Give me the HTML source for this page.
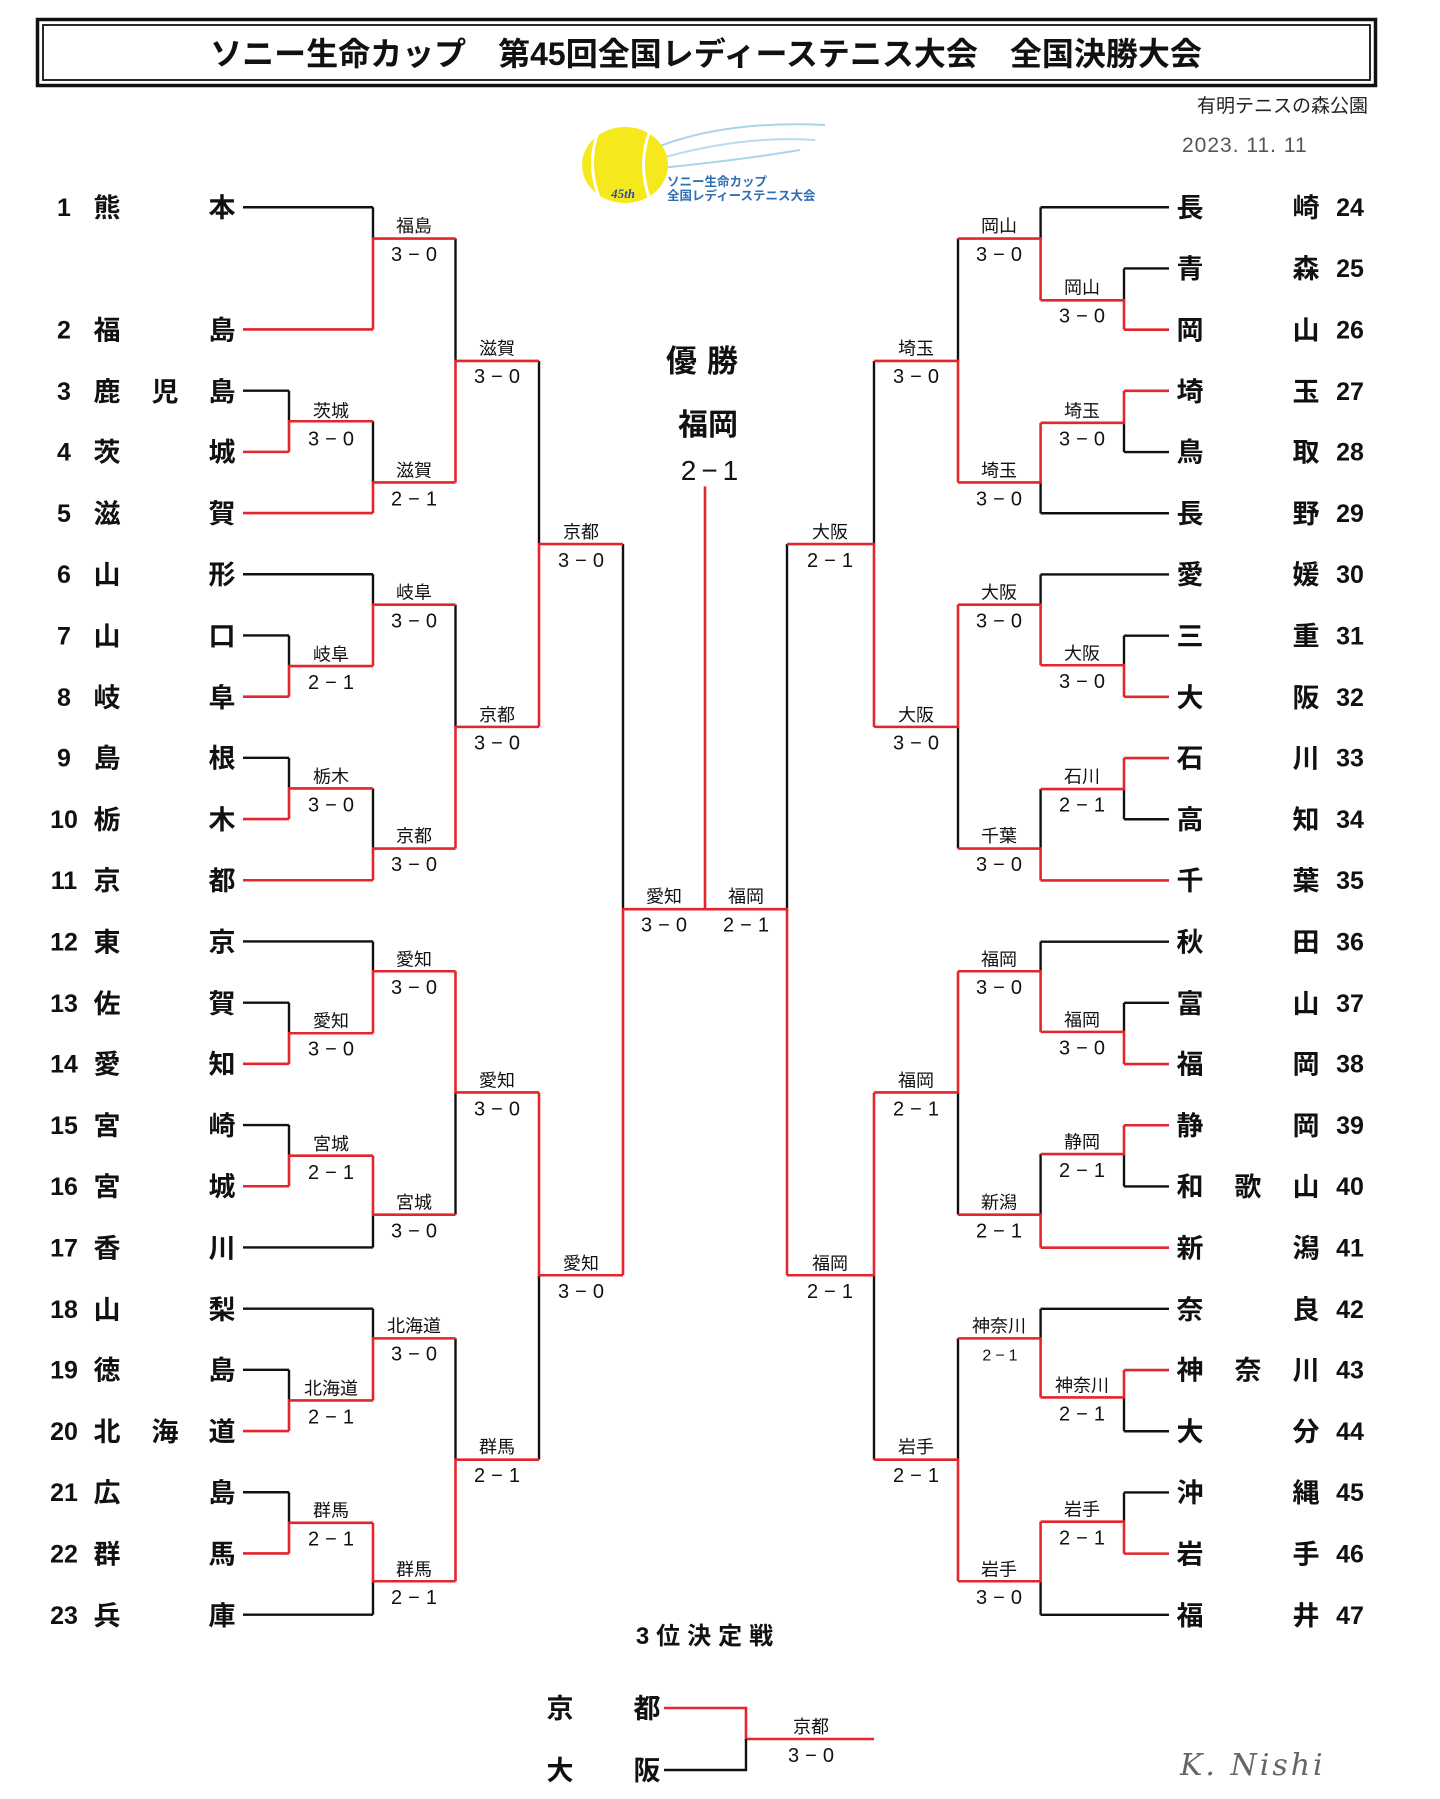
<!DOCTYPE html>
<html><head><meta charset="utf-8"><style>
html,body{margin:0;padding:0;background:#fff}
svg{display:block}
.t{font-family:"Liberation Sans","Noto Sans CJK JP",sans-serif;font-weight:bold;font-size:27px;fill:#111;text-anchor:middle}
.n{font-family:"Liberation Sans",sans-serif;font-weight:bold;font-size:25px;fill:#111;text-anchor:middle}
.l{font-family:"Liberation Sans","Noto Sans CJK JP",sans-serif;font-size:18px;fill:#111;text-anchor:middle}
.s{font-family:"Liberation Sans",sans-serif;font-size:20px;fill:#111;text-anchor:middle;letter-spacing:6px}
.r{fill:none;stroke:#e3262d;stroke-width:2.6}
.k{fill:none;stroke:#111;stroke-width:2.4}
</style></head><body>
<svg width="1440" height="1799" viewBox="0 0 1440 1799" xmlns="http://www.w3.org/2000/svg">
<rect x="37.5" y="19.5" width="1338" height="66" fill="none" stroke="#111" stroke-width="3.5"/>
<rect x="43" y="25" width="1327" height="55" fill="none" stroke="#111" stroke-width="1.8"/>
<text x="706" y="65" font-family="'Liberation Sans','Noto Sans CJK JP',sans-serif" font-weight="bold" font-size="32" text-anchor="middle" fill="#111">ソニー生命カップ　第45回全国レディーステニス大会　全国決勝大会</text>
<text x="1368" y="112" font-family="'Liberation Sans','Noto Sans CJK JP',sans-serif" font-size="19" text-anchor="end" fill="#222">有明テニスの森公園</text>
<text x="1182" y="152" font-family="'Liberation Sans',sans-serif" font-size="21" fill="#555" letter-spacing="1">2023. 11. 11</text>
<g>
<path d="M650 150 Q720 120 825 125" stroke="#a8d4ec" stroke-width="2" fill="none"/>
<path d="M655 160 Q740 135 815 140" stroke="#b8dcef" stroke-width="2" fill="none"/>
<path d="M660 168 Q740 160 800 150" stroke="#a8d4ec" stroke-width="2" fill="none"/>
<ellipse cx="625" cy="165" rx="43" ry="38" fill="#f5e91e"/>
<path d="M598 132 Q586 165 600 200" stroke="#fff" stroke-width="3" fill="none"/>
<path d="M650 130 Q637 165 650 200" stroke="#fff" stroke-width="3" fill="none"/>
<text x="623" y="198" font-family="'Liberation Serif',serif" font-style="italic" font-weight="bold" font-size="13" fill="#2b4fa0" text-anchor="middle">45th</text>
<text x="667" y="186" font-family="'Liberation Sans','Noto Sans CJK JP',sans-serif" font-weight="bold" font-size="12.5" fill="#2e6fb8">ソニー生命カップ</text>
<text x="667" y="200" font-family="'Liberation Sans','Noto Sans CJK JP',sans-serif" font-weight="bold" font-size="12.5" fill="#2e6fb8">全国レディーステニス大会</text>
</g>
<text x="707" y="372" font-family="'Liberation Sans','Noto Sans CJK JP',sans-serif" font-weight="bold" font-size="31" text-anchor="middle" fill="#111" letter-spacing="10">優勝</text>
<text x="708" y="435" font-family="'Liberation Sans','Noto Sans CJK JP',sans-serif" font-weight="bold" font-size="30" text-anchor="middle" fill="#111">福岡</text>
<text x="712" y="480" font-family="'Liberation Sans',sans-serif" font-size="28" text-anchor="middle" fill="#111" letter-spacing="5">2−1</text>

<g transform="translate(0,1.6) scale(1,0.9935)">
<path class="k" d="M243 207H373 M243 391.6H289 M243 576.4H373 M243 638H289 M243 761.2H289 M243 946H373 M243 1007.6H289 M243 1130.8H289 M243 1254H373 M243 1315.6H373 M243 1377.2H289 M243 1500.4H289 M243 1623.6H373
M289 391.6V422.4 M289 638V668.8 M289 761.2V792 M289 1007.6V1038.4 M289 1130.8V1161.6 M289 1377.2V1408 M289 1500.4V1531.2
M373 207V238.5 M373 422.4V484 M373 576.4V607 M373 792V852.5 M373 946V976 M373 1254V1221 M373 1315.6V1345.5 M373 1623.6V1590
M455.5 238.5V361.7 M455.5 607V730 M455.5 1221V1098 M455.5 1345.5V1467.6
M539 361.7V546 M539 1467.6V1282 M623 546V913.5
M1169 207H1040.6 M1169 268.6H1124 M1169 453.4H1124 M1169 515H1040.6 M1169 576.6H1040.6 M1169 638.2H1124 M1169 823H1124 M1169 946.2H1040.6 M1169 1007.8H1124 M1169 1192.6H1124 M1169 1315.8H1040.6 M1169 1439H1124 M1169 1500.6H1124 M1169 1623.8H1040.6
M1124 268.6V300.7 M1124 453.4V424 M1124 638.2V668 M1124 823V792.6 M1124 1007.8V1037 M1124 1192.6V1160 M1124 1439V1405 M1124 1500.6V1530
M1040.6 207V238.5 M1040.6 515V484 M1040.6 576.6V607 M1040.6 792.6V852.5 M1040.6 946.2V976 M1040.6 1160V1221 M1040.6 1315.8V1345.5 M1040.6 1623.8V1590
M958 238.5V361.7 M958 852.5V730 M958 1221V1098 M958 1345.5V1467.6
M874 361.7V546 M874 1467.6V1282 M787 546V913.5"/>
<path class="r" d="M243 330H373 M243 453.2H289 M243 514.8H373 M243 699.6H289 M243 822.8H289 M243 884.4H373 M243 1069.2H289 M243 1192.4H289 M243 1438.8H289 M243 1562H289
M289 453.2V422.4H373 M289 699.6V668.8H373 M289 822.8V792H373 M289 1069.2V1038.4H373 M289 1192.4V1161.6H373 M289 1438.8V1408H373 M289 1562V1531.2H373
M373 330V238.5H455.5 M373 514.8V484H455.5 M373 668.8V607H455.5 M373 884.4V852.5H455.5 M373 1038.4V976H455.5 M373 1161.6V1221H455.5 M373 1408V1345.5H455.5 M373 1531.2V1590H455.5
M455.5 484V361.7H539 M455.5 852.5V730H539 M455.5 976V1098H539 M455.5 1590V1467.6H539
M539 730V546H623 M539 1098V1282H623 M623 1282V913.5H705 M705 488V913.5
M1169 330.2H1124 M1169 391.8H1124 M1169 699.8H1124 M1169 761.4H1124 M1169 884.6H1040.6 M1169 1069.4H1124 M1169 1131H1124 M1169 1254.2H1040.6 M1169 1377.4H1124 M1169 1562.2H1124
M1124 330.2V300.7H1040.6 M1124 391.8V424H1040.6 M1124 699.8V668H1040.6 M1124 761.4V792.6H1040.6 M1124 1069.4V1037H1040.6 M1124 1131V1160H1040.6 M1124 1377.4V1405H1040.6 M1124 1562.2V1530H1040.6
M1040.6 300.7V238.5H958 M1040.6 424V484H958 M1040.6 668V607H958 M1040.6 884.6V852.5H958 M1040.6 1037V976H958 M1040.6 1254.2V1221H958 M1040.6 1405V1345.5H958 M1040.6 1530V1590H958
M958 484V361.7H874 M958 607V730H874 M958 976V1098H874 M958 1590V1467.6H874
M874 730V546H787 M874 1098V1282H787 M787 1282V913.5H705"/>

<g>
<text class="n" x="64" y="216">1</text><text class="t" x="107" y="217">熊</text><text class="t" x="222" y="217">本</text>
<text class="n" x="64" y="339">2</text><text class="t" x="107" y="340">福</text><text class="t" x="222" y="340">島</text>
<text class="n" x="64" y="401">3</text><text class="t" x="107" y="402">鹿</text><text class="t" x="165" y="402">児</text><text class="t" x="222" y="402">島</text>
<text class="n" x="64" y="462">4</text><text class="t" x="107" y="463">茨</text><text class="t" x="222" y="463">城</text>
<text class="n" x="64" y="524">5</text><text class="t" x="107" y="525">滋</text><text class="t" x="222" y="525">賀</text>
<text class="n" x="64" y="585">6</text><text class="t" x="107" y="586">山</text><text class="t" x="222" y="586">形</text>
<text class="n" x="64" y="647">7</text><text class="t" x="107" y="648">山</text><text class="t" x="222" y="648">口</text>
<text class="n" x="64" y="709">8</text><text class="t" x="107" y="710">岐</text><text class="t" x="222" y="710">阜</text>
<text class="n" x="64" y="770">9</text><text class="t" x="107" y="771">島</text><text class="t" x="222" y="771">根</text>
<text class="n" x="64" y="832">10</text><text class="t" x="107" y="833">栃</text><text class="t" x="222" y="833">木</text>
<text class="n" x="64" y="893">11</text><text class="t" x="107" y="894">京</text><text class="t" x="222" y="894">都</text>
<text class="n" x="64" y="955">12</text><text class="t" x="107" y="956">東</text><text class="t" x="222" y="956">京</text>
<text class="n" x="64" y="1017">13</text><text class="t" x="107" y="1018">佐</text><text class="t" x="222" y="1018">賀</text>
<text class="n" x="64" y="1078">14</text><text class="t" x="107" y="1079">愛</text><text class="t" x="222" y="1079">知</text>
<text class="n" x="64" y="1140">15</text><text class="t" x="107" y="1141">宮</text><text class="t" x="222" y="1141">崎</text>
<text class="n" x="64" y="1201">16</text><text class="t" x="107" y="1202">宮</text><text class="t" x="222" y="1202">城</text>
<text class="n" x="64" y="1263">17</text><text class="t" x="107" y="1264">香</text><text class="t" x="222" y="1264">川</text>
<text class="n" x="64" y="1325">18</text><text class="t" x="107" y="1326">山</text><text class="t" x="222" y="1326">梨</text>
<text class="n" x="64" y="1386">19</text><text class="t" x="107" y="1387">徳</text><text class="t" x="222" y="1387">島</text>
<text class="n" x="64" y="1448">20</text><text class="t" x="107" y="1449">北</text><text class="t" x="165" y="1449">海</text><text class="t" x="222" y="1449">道</text>
<text class="n" x="64" y="1509">21</text><text class="t" x="107" y="1510">広</text><text class="t" x="222" y="1510">島</text>
<text class="n" x="64" y="1571">22</text><text class="t" x="107" y="1572">群</text><text class="t" x="222" y="1572">馬</text>
<text class="n" x="64" y="1633">23</text><text class="t" x="107" y="1634">兵</text><text class="t" x="222" y="1634">庫</text>
</g>
<g>
<text class="t" x="1190" y="217">長</text><text class="t" x="1306" y="217">崎</text><text class="n" x="1350" y="216">24</text>
<text class="t" x="1190" y="278">青</text><text class="t" x="1306" y="278">森</text><text class="n" x="1350" y="277">25</text>
<text class="t" x="1190" y="340">岡</text><text class="t" x="1306" y="340">山</text><text class="n" x="1350" y="339">26</text>
<text class="t" x="1190" y="402">埼</text><text class="t" x="1306" y="402">玉</text><text class="n" x="1350" y="401">27</text>
<text class="t" x="1190" y="463">鳥</text><text class="t" x="1306" y="463">取</text><text class="n" x="1350" y="462">28</text>
<text class="t" x="1190" y="525">長</text><text class="t" x="1306" y="525">野</text><text class="n" x="1350" y="524">29</text>
<text class="t" x="1190" y="586">愛</text><text class="t" x="1306" y="586">媛</text><text class="n" x="1350" y="585">30</text>
<text class="t" x="1190" y="648">三</text><text class="t" x="1306" y="648">重</text><text class="n" x="1350" y="647">31</text>
<text class="t" x="1190" y="710">大</text><text class="t" x="1306" y="710">阪</text><text class="n" x="1350" y="709">32</text>
<text class="t" x="1190" y="771">石</text><text class="t" x="1306" y="771">川</text><text class="n" x="1350" y="770">33</text>
<text class="t" x="1190" y="833">高</text><text class="t" x="1306" y="833">知</text><text class="n" x="1350" y="832">34</text>
<text class="t" x="1190" y="894">千</text><text class="t" x="1306" y="894">葉</text><text class="n" x="1350" y="893">35</text>
<text class="t" x="1190" y="956">秋</text><text class="t" x="1306" y="956">田</text><text class="n" x="1350" y="955">36</text>
<text class="t" x="1190" y="1018">富</text><text class="t" x="1306" y="1018">山</text><text class="n" x="1350" y="1017">37</text>
<text class="t" x="1190" y="1079">福</text><text class="t" x="1306" y="1079">岡</text><text class="n" x="1350" y="1078">38</text>
<text class="t" x="1190" y="1141">静</text><text class="t" x="1306" y="1141">岡</text><text class="n" x="1350" y="1140">39</text>
<text class="t" x="1190" y="1202">和</text><text class="t" x="1248" y="1202">歌</text><text class="t" x="1306" y="1202">山</text><text class="n" x="1350" y="1201">40</text>
<text class="t" x="1190" y="1264">新</text><text class="t" x="1306" y="1264">潟</text><text class="n" x="1350" y="1263">41</text>
<text class="t" x="1190" y="1326">奈</text><text class="t" x="1306" y="1326">良</text><text class="n" x="1350" y="1325">42</text>
<text class="t" x="1190" y="1387">神</text><text class="t" x="1248" y="1387">奈</text><text class="t" x="1306" y="1387">川</text><text class="n" x="1350" y="1386">43</text>
<text class="t" x="1190" y="1449">大</text><text class="t" x="1306" y="1449">分</text><text class="n" x="1350" y="1448">44</text>
<text class="t" x="1190" y="1510">沖</text><text class="t" x="1306" y="1510">縄</text><text class="n" x="1350" y="1509">45</text>
<text class="t" x="1190" y="1572">岩</text><text class="t" x="1306" y="1572">手</text><text class="n" x="1350" y="1571">46</text>
<text class="t" x="1190" y="1634">福</text><text class="t" x="1306" y="1634">井</text><text class="n" x="1350" y="1633">47</text>
</g>
<g>
<text class="l" x="331" y="418">茨城</text><text class="s" x="334" y="447">3−0</text>
<text class="l" x="331" y="663">岐阜</text><text class="s" x="334" y="692">2−1</text>
<text class="l" x="331" y="786">栃木</text><text class="s" x="334" y="815">3−0</text>
<text class="l" x="331" y="1032">愛知</text><text class="s" x="334" y="1061">3−0</text>
<text class="l" x="331" y="1156">宮城</text><text class="s" x="334" y="1185">2−1</text>
<text class="l" x="331" y="1402">北海道</text><text class="s" x="334" y="1431">2−1</text>
<text class="l" x="331" y="1525">群馬</text><text class="s" x="334" y="1554">2−1</text>
<text class="l" x="414" y="232">福島</text><text class="s" x="417" y="261">3−0</text>
<text class="l" x="414" y="478">滋賀</text><text class="s" x="417" y="507">2−1</text>
<text class="l" x="414" y="601">岐阜</text><text class="s" x="417" y="630">3−0</text>
<text class="l" x="414" y="846">京都</text><text class="s" x="417" y="875">3−0</text>
<text class="l" x="414" y="970">愛知</text><text class="s" x="417" y="999">3−0</text>
<text class="l" x="414" y="1215">宮城</text><text class="s" x="417" y="1244">3−0</text>
<text class="l" x="414" y="1339">北海道</text><text class="s" x="417" y="1368">3−0</text>
<text class="l" x="414" y="1584">群馬</text><text class="s" x="417" y="1613">2−1</text>
<text class="l" x="497" y="355">滋賀</text><text class="s" x="500" y="384">3−0</text>
<text class="l" x="497" y="724">京都</text><text class="s" x="500" y="753">3−0</text>
<text class="l" x="497" y="1092">愛知</text><text class="s" x="500" y="1121">3−0</text>
<text class="l" x="497" y="1461">群馬</text><text class="s" x="500" y="1490">2−1</text>
<text class="l" x="581" y="540">京都</text><text class="s" x="584" y="569">3−0</text>
<text class="l" x="581" y="1276">愛知</text><text class="s" x="584" y="1305">3−0</text>
<text class="l" x="664" y="907">愛知</text><text class="s" x="667" y="936">3−0</text>
</g>
<g>
<text class="l" x="1082" y="294">岡山</text><text class="s" x="1085" y="323">3−0</text>
<text class="l" x="1082" y="418">埼玉</text><text class="s" x="1085" y="447">3−0</text>
<text class="l" x="1082" y="662">大阪</text><text class="s" x="1085" y="691">3−0</text>
<text class="l" x="1082" y="786">石川</text><text class="s" x="1085" y="815">2−1</text>
<text class="l" x="1082" y="1031">福岡</text><text class="s" x="1085" y="1060">3−0</text>
<text class="l" x="1082" y="1154">静岡</text><text class="s" x="1085" y="1183">2−1</text>
<text class="l" x="1082" y="1399">神奈川</text><text class="s" x="1085" y="1428">2−1</text>
<text class="l" x="1082" y="1524">岩手</text><text class="s" x="1085" y="1553">2−1</text>
<text class="l" x="999" y="232">岡山</text><text class="s" x="1002" y="261">3−0</text>
<text class="l" x="999" y="478">埼玉</text><text class="s" x="1002" y="507">3−0</text>
<text class="l" x="999" y="601">大阪</text><text class="s" x="1002" y="630">3−0</text>
<text class="l" x="999" y="846">千葉</text><text class="s" x="1002" y="875">3−0</text>
<text class="l" x="999" y="970">福岡</text><text class="s" x="1002" y="999">3−0</text>
<text class="l" x="999" y="1215">新潟</text><text class="s" x="1002" y="1244">2−1</text>
<text class="l" x="999" y="1339">神奈川</text><text class="s" x="1002" y="1368" style="font-size:16px;letter-spacing:4px">2−1</text>
<text class="l" x="999" y="1584">岩手</text><text class="s" x="1002" y="1613">3−0</text>
<text class="l" x="916" y="355">埼玉</text><text class="s" x="919" y="384">3−0</text>
<text class="l" x="916" y="724">大阪</text><text class="s" x="919" y="753">3−0</text>
<text class="l" x="916" y="1092">福岡</text><text class="s" x="919" y="1121">2−1</text>
<text class="l" x="916" y="1461">岩手</text><text class="s" x="919" y="1490">2−1</text>
<text class="l" x="830" y="540">大阪</text><text class="s" x="833" y="569">2−1</text>
<text class="l" x="830" y="1276">福岡</text><text class="s" x="833" y="1305">2−1</text>
<text class="l" x="746" y="907">福岡</text><text class="s" x="749" y="936">2−1</text>
</g>
</g>

<text x="708" y="1644" font-family="'Liberation Sans','Noto Sans CJK JP',sans-serif" font-weight="bold" font-size="24" text-anchor="middle" fill="#111" letter-spacing="7">3位決定戦</text>
<text class="t" x="560" y="1718">京</text><text class="t" x="647" y="1718">都</text>
<text class="t" x="560" y="1780">大</text><text class="t" x="647" y="1780">阪</text>
<path class="r" d="M664 1708H746V1739H874"/>
<path class="k" d="M664 1770H746V1739"/>
<text class="l" x="811" y="1733">京都</text><text class="s" x="814" y="1762">3−0</text>
<text x="1180" y="1775" font-family="'DejaVu Serif','Liberation Serif',serif" font-style="italic" font-size="30" fill="#666" letter-spacing="3">K. Nishi</text>
</svg>
</body></html>
